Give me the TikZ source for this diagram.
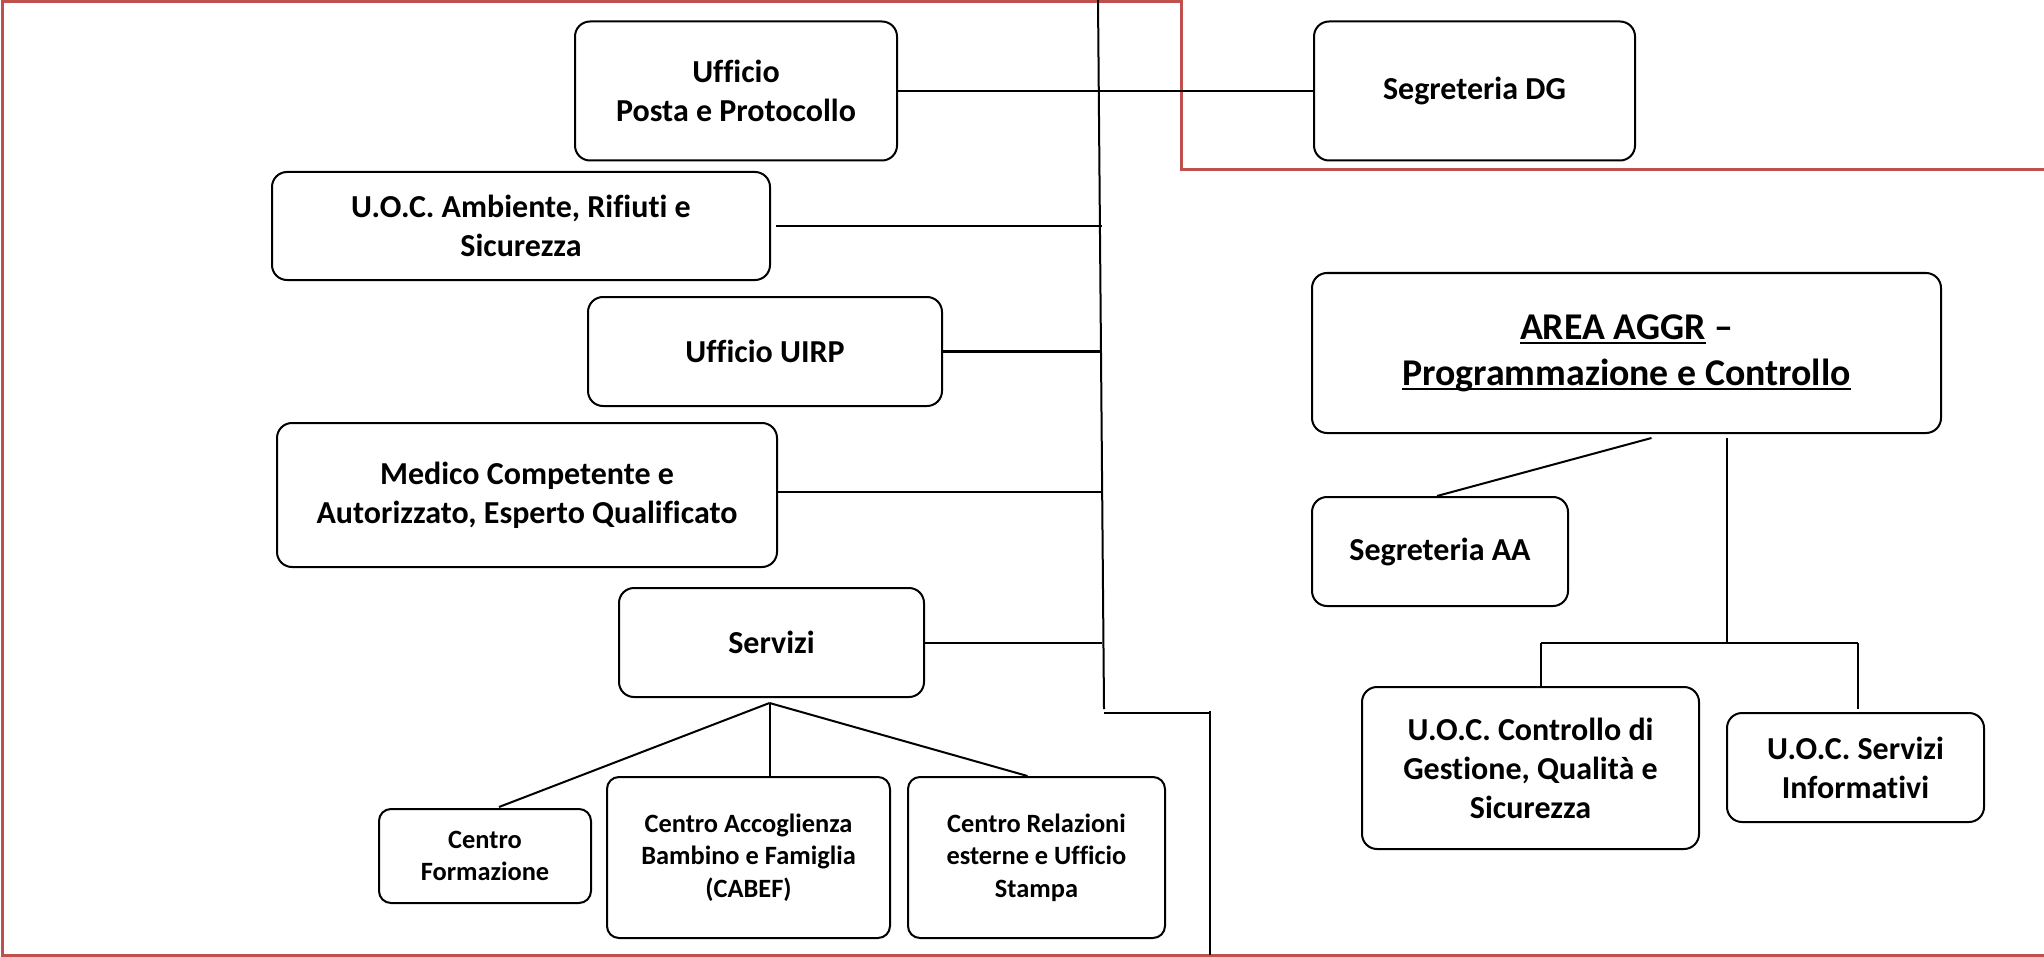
\documentclass[tikz,border=0pt]{standalone}
\usepackage{fontspec}
\setmainfont{Carlito}[Ligatures=NoCommon]
\usetikzlibrary{calc}
\definecolor{frame}{RGB}{192,80,77}
% heavy underline for the area title
\newcommand\areaul[1]{\setbox0\hbox{#1}\rlap{\rule[-2.4pt]{\wd0}{1.1pt}}\box0}
\begin{document}
\begin{tikzpicture}[x=0.5pt,y=-0.5pt,
  box/.style={draw, line width=1pt, rounded corners=7.5pt, align=center,
    inner sep=0pt, font=\bfseries\fontsize{16}{19.5}\selectfont},
  smallbox/.style={box, rounded corners=6pt, font=\bfseries\fontsize{13.2}{16.3}\selectfont},
  bigbox/.style={box, font=\bfseries\fontsize{18.9}{23}\selectfont},
  link/.style={line width=1pt},
  thicklink/.style={line width=1.4pt},
  border/.style={draw=frame, line width=1.5pt}]
\useasboundingbox (0,0) rectangle (2044,957);

% outer frame
\draw[border] (2044,170) -- (1181,170) -- (1181,2) -- (2,2) -- (2,955) -- (2044,955);

% staff offices on the left
\node[box, minimum width=161pt, minimum height=69.5pt] (ufficio) at (736,91) {Ufficio\\Posta e Protocollo};
\node[box, minimum width=160.5pt, minimum height=69.5pt] (segdg) at (1474.5,91) {Segreteria DG};
\node[box, minimum width=249pt, minimum height=54pt] (ambiente) at (521,226) {U.O.C. Ambiente, Rifiuti e\\Sicurezza};
\node[box, minimum width=177pt, minimum height=54.5pt] (uirp) at (765,351.5) {Ufficio UIRP};
\node[box, minimum width=250pt, minimum height=72pt] (medico) at (527,495) {Medico Competente e\\Autorizzato, Esperto Qualificato};
\node[box, minimum width=152.5pt, minimum height=54.5pt] (servizi) at (771.5,642.5) {Servizi};

% services
\node[smallbox, minimum width=106pt, minimum height=47pt] (formazione) at (485,856) {Centro\\Formazione};
\node[smallbox, minimum width=141.5pt, minimum height=80.5pt] (cabef) at (748.5,857.5) {Centro Accoglienza\\Bambino e Famiglia\\(CABEF)};
\node[smallbox, minimum width=128.5pt, minimum height=80.5pt] (relazioni) at (1036.5,857.5) {Centro Relazioni\\esterne e Ufficio\\Stampa};

% programming and control area
\node[bigbox, minimum width=314.5pt, minimum height=80pt] (area) at (1626.5,353) {\areaul{AREA AGGR}\ --\\\areaul{Programmazione e Controllo}};
\node[box, minimum width=128pt, minimum height=54.5pt] (segaa) at (1440,551.5) {Segreteria AA};
\node[box, minimum width=168.5pt, minimum height=81pt] (controllo) at (1530.5,768) {U.O.C. Controllo di\\Gestione, Qualità e\\Sicurezza};
\node[box, minimum width=128.5pt, minimum height=54.5pt] (informativi) at (1855.5,767.5) {U.O.C. Servizi\\Informativi};

% main vertical line and its lower step
\coordinate (ttop) at (1098,0);
\coordinate (tbot) at (1104,709);
\coordinate (sleft) at (1104,713);
\coordinate (sright) at (1210,713);
\coordinate (send) at (1210,955);
\coordinate (tx) at (1102,0);
\draw[link] (ttop) -- (tbot);
\draw[link] (sleft) -- (sright);
\draw[thicklink] ($(sright)+(0,-2)$) -- (send);

% branches to the main line
\draw[link] (ufficio.east) -- (segdg.west);
\draw[link] ($(ambiente.east)+(5,0)$) -- (ambiente.east -| tx);
\draw[thicklink] (uirp.east) -- (uirp.east -| tx);
\draw[link] ($(medico.east)+(0,-3)$) -- ($(medico.east -| tx)+(0,-3)$);
\draw[link] (servizi.east) -- (servizi.east -| tx);

% services fan-out
\coordinate (sj) at ($(servizi.south)+(-2,5)$);
\draw[link] (sj) -- ($(formazione.north)+(14,-1)$);
\draw[link] (sj) -- (sj |- cabef.north);
\draw[link] (sj) -- ($(relazioni.north)+(-9,0)$);

% area branches
\coordinate (af) at ($(area.south)+(25,4)$);
\coordinate (hub) at ($(area.south)+(100.5,210)$);
\coordinate (hl) at (1541,643);
\coordinate (hr) at (1858,643);
\draw[link] (af) -- ($(segaa.north)+(-3,0)$);
\draw[link] (hub |- af) -- (hub);
\draw[thicklink] (hl) -- (hr);
\draw[thicklink] (hl) -- (hl |- controllo.north);
\draw[thicklink] (hr) -- ($(hr |- informativi.north)+(0,-3)$);
\end{tikzpicture}
\end{document}
